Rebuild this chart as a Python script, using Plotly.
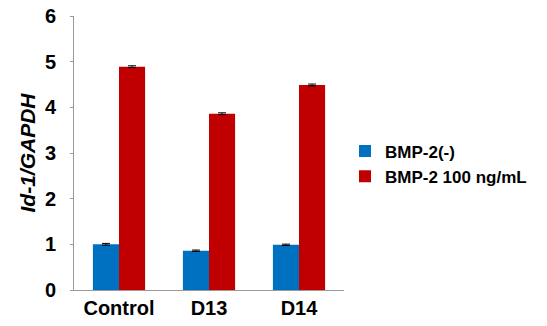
import plotly.graph_objects as go

categories = ["Control", "D13", "D14"]
bmp_neg = [1.00, 0.86, 0.99]
bmp_neg_err = [0.02, 0.015, 0.015]
bmp_100 = [4.89, 3.86, 4.49]
bmp_100_err = [0.02, 0.02, 0.02]
y_ticks = [0, 1, 2, 3, 4, 5, 6]

font_family = "Liberation Sans, Arial, sans-serif"
W, H = 547, 326

fig = go.Figure()
fig.add_trace(go.Bar(
    x=categories, y=bmp_neg, name="BMP-2(-)",
    marker=dict(color="#0070C0", line=dict(width=0)),
    error_y=dict(type="data", array=bmp_neg_err, color="black", thickness=1, width=4),
))
fig.add_trace(go.Bar(
    x=categories, y=bmp_100, name="BMP-2 100 ng/mL",
    marker=dict(color="#C00000", line=dict(width=0)),
    error_y=dict(type="data", array=bmp_100_err, color="black", thickness=1, width=4),
))

fig.update_layout(
    width=W, height=H,
    margin=dict(l=74, r=203, t=16, b=36, autoexpand=False),
    paper_bgcolor="white", plot_bgcolor="white",
    barmode="group", bargap=0.42, bargroupgap=0,
    font=dict(family=font_family, color="black"),
    showlegend=True,
    legend=dict(
        x=345 / W, xref="container", xanchor="left",
        y=1 - 164 / H, yref="container", yanchor="middle",
        font=dict(size=17, family=font_family, color="black", weight="bold"),
        bgcolor="rgba(0,0,0,0)", tracegroupgap=0, itemwidth=30,
    ),
    xaxis=dict(
        showline=True, linecolor="#999999", linewidth=1,
        ticks="", showgrid=False,
        tickfont=dict(size=20, family=font_family, color="black", weight="bold"),
    ),
    yaxis=dict(
        range=[0, 6], tickvals=y_ticks,
        showline=True, linecolor="#999999", linewidth=1,
        ticks="outside", ticklen=3, tickcolor="#999999",
        ticklabelstandoff=10, ticklabeloverflow="allow",
        showgrid=False, zeroline=False,
        tickfont=dict(size=20, family=font_family, color="black", weight="bold"),
        title=dict(
            text="<i>Id-1/GAPDH</i>",
            font=dict(size=21, family=font_family, color="black", weight="bold"),
            standoff=3,
        ),
    ),
)

# remove the default 8px page margin so the figure sits at the window's corner
fig.write_html(
    "out.html",
    config={"displayModeBar": False},
    post_script="document.body.style.margin='0';",
)
